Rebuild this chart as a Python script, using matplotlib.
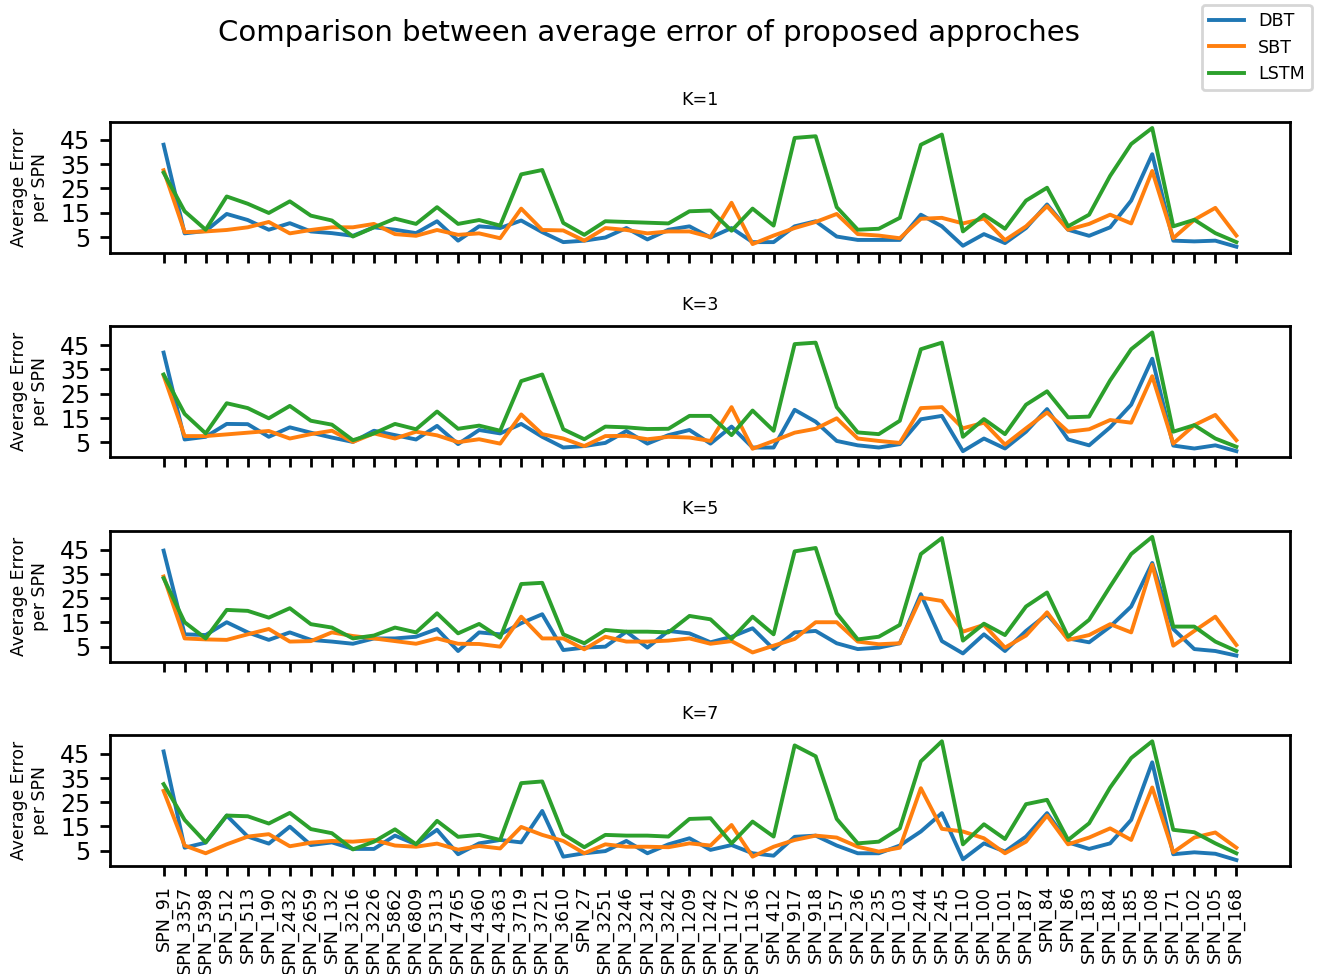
import numpy as np
import matplotlib
matplotlib.use('Agg')
from matplotlib import pyplot as plt

#%% DATA

spn_labels = ['SPN_91', 'SPN_3357', 'SPN_5398', 'SPN_512', 'SPN_513', 'SPN_190',
              'SPN_2432', 'SPN_2659', 'SPN_132', 'SPN_3216', 'SPN_3226', 'SPN_5862',
              'SPN_6809', 'SPN_5313', 'SPN_4765', 'SPN_4360', 'SPN_4363', 'SPN_3719',
              'SPN_3721', 'SPN_3610', 'SPN_27', 'SPN_3251', 'SPN_3246', 'SPN_3241',
              'SPN_3242', 'SPN_1209', 'SPN_1242', 'SPN_1172', 'SPN_1136', 'SPN_412',
              'SPN_917', 'SPN_918', 'SPN_157', 'SPN_236', 'SPN_235', 'SPN_103',
              'SPN_244', 'SPN_245', 'SPN_110', 'SPN_100', 'SPN_101', 'SPN_187',
              'SPN_84', 'SPN_86', 'SPN_183', 'SPN_184', 'SPN_185', 'SPN_108',
              'SPN_171', 'SPN_102', 'SPN_105', 'SPN_168']

k_values = [1, 3, 5, 7]

# K=1
dbt_k1 = [43.0, 6.5, 7.5, 14.5, 12.0, 8.0, 10.7, 7.3, 6.6, 5.5, 9.0, 8.0, 6.6,
          11.5, 3.5, 9.4, 8.7, 11.8, 7.0, 2.9, 3.5, 4.8, 8.7, 4.0, 8.0, 9.4,
          4.8, 8.7, 2.9, 2.9, 9.4, 11.5, 5.2, 3.8, 3.8, 3.8, 14.2, 9.4, 1.4,
          6.2, 2.5, 8.7, 18.4, 8.0, 5.5, 9.0, 20.0, 39.1, 3.5, 3.2, 3.5, 1.0]
sbt_k1 = [32.5, 7.0, 7.3, 7.9, 9.0, 11.2, 6.5, 7.9, 9.0, 9.0, 10.4, 6.2, 5.5,
          7.9, 5.9, 6.5, 4.5, 16.7, 7.9, 7.7, 3.5, 8.7, 7.9, 6.5, 7.3, 7.3,
          5.0, 19.1, 2.1, 5.6, 8.7, 11.2, 14.5, 6.2, 5.6, 4.5, 12.5, 12.9, 10.6,
          12.6, 3.7, 9.4, 17.7, 8.0, 10.4, 14.2, 10.6, 32.2, 4.5, 12.1, 17.0, 5.6]
lstm_k1 = [31.5, 15.6, 8.0, 21.7, 18.7, 14.9, 19.7, 13.8, 11.8, 5.2, 9.0, 12.6, 10.4,
           17.3, 10.4, 12.0, 9.7, 30.8, 32.6, 10.8, 5.9, 11.5, 11.2, 10.9, 10.6, 15.6,
           15.9, 7.6, 16.7, 9.7, 45.8, 46.5, 17.3, 8.0, 8.4, 12.9, 43.0, 47.2, 7.3,
           14.2, 8.4, 20.0, 25.3, 9.4, 14.2, 30.2, 43.3, 49.9, 9.4, 12.1, 6.6, 2.9]

# K=3
dbt_k3 = [41.9, 6.2, 7.3, 12.6, 12.5, 7.3, 11.2, 9.0, 7.0, 5.2, 9.8, 8.0, 6.2,
          11.8, 4.3, 10.1, 8.7, 12.6, 7.3, 2.9, 3.5, 4.8, 9.7, 4.5, 8.0, 10.1,
          4.5, 11.5, 2.9, 2.9, 18.4, 13.5, 5.6, 3.8, 2.9, 4.3, 14.5, 15.9, 1.4,
          6.6, 2.5, 9.4, 18.7, 6.2, 3.8, 11.2, 20.5, 39.4, 3.7, 2.5, 3.8, 1.4]
sbt_k3 = [32.5, 7.6, 7.6, 8.3, 9.0, 9.7, 6.6, 8.4, 9.8, 5.2, 8.7, 6.6, 9.4,
          7.9, 5.1, 6.3, 4.5, 16.5, 8.4, 6.6, 3.5, 7.6, 7.7, 6.3, 7.3, 7.0,
          5.6, 19.5, 2.4, 5.6, 9.0, 10.6, 14.9, 6.6, 5.6, 4.8, 19.1, 19.5, 10.8,
          13.1, 4.1, 10.8, 17.3, 9.4, 10.4, 14.2, 13.1, 32.2, 4.5, 12.1, 16.3, 5.9]
lstm_k3 = [32.9, 16.7, 8.7, 21.1, 19.1, 14.9, 20.0, 13.9, 12.3, 5.9, 8.7, 12.6, 10.4,
           17.7, 10.6, 11.9, 9.8, 30.2, 32.9, 10.4, 6.3, 11.5, 11.2, 10.5, 10.6, 15.9,
           15.9, 8.0, 18.1, 9.8, 45.4, 46.0, 19.5, 9.1, 8.4, 13.9, 43.3, 46.0, 7.3,
           14.6, 8.4, 20.5, 26.0, 15.3, 15.6, 30.5, 43.3, 50.2, 9.4, 12.1, 6.6, 3.2]

# K=5
dbt_k5 = [44.7, 10.1, 9.8, 15.1, 10.9, 7.8, 10.9, 7.8, 7.1, 6.2, 8.4, 8.4, 9.1,
          12.3, 3.2, 10.9, 10.1, 14.7, 18.4, 3.6, 4.6, 5.0, 11.2, 4.6, 11.5, 10.5,
          6.8, 9.1, 12.6, 4.0, 10.9, 11.5, 6.4, 4.0, 4.6, 6.4, 26.7, 7.3, 2.2,
          10.1, 3.2, 11.5, 18.4, 8.4, 6.8, 13.3, 21.6, 39.6, 12.3, 4.0, 3.2, 1.3]
sbt_k5 = [34.0, 8.4, 8.0, 7.8, 10.1, 12.3, 7.1, 7.3, 10.9, 9.4, 8.4, 7.3, 6.2,
          8.4, 6.2, 6.1, 5.0, 17.4, 8.4, 8.4, 3.9, 9.1, 7.1, 7.1, 7.5, 8.4,
          6.2, 7.3, 2.6, 5.4, 8.2, 15.1, 15.1, 7.1, 6.0, 6.4, 25.3, 23.9, 11.2,
          14.0, 4.6, 9.6, 19.2, 7.8, 9.8, 14.3, 10.9, 38.9, 5.4, 11.5, 17.4, 5.7]
lstm_k5 = [33.3, 15.1, 8.4, 20.2, 19.8, 17.0, 20.9, 14.3, 12.9, 8.4, 9.6, 12.9, 10.9,
           18.8, 10.5, 14.4, 8.7, 30.9, 31.4, 10.1, 6.4, 11.9, 11.2, 11.2, 10.9, 17.7,
           16.3, 8.2, 17.4, 10.1, 44.4, 45.8, 18.8, 8.0, 9.1, 14.0, 43.3, 49.9, 7.5,
           14.5, 9.8, 21.6, 27.4, 9.1, 16.1, 29.9, 43.3, 50.4, 13.3, 13.3, 7.1, 3.2]

# K=7
dbt_k7 = [46.0, 6.2, 8.3, 19.5, 10.8, 7.9, 14.9, 7.3, 8.4, 5.7, 5.7, 11.2, 7.6,
          13.6, 3.5, 8.0, 9.4, 8.4, 21.4, 2.5, 3.9, 4.8, 9.0, 3.9, 7.6, 10.1,
          5.3, 7.3, 3.9, 2.9, 10.7, 11.2, 7.1, 3.9, 3.9, 7.1, 12.9, 20.5, 1.4,
          8.0, 4.6, 10.8, 20.5, 8.4, 5.7, 8.0, 17.7, 41.5, 3.5, 4.3, 3.7, 1.1]
sbt_k7 = [29.7, 7.1, 3.9, 7.6, 10.8, 11.8, 6.8, 8.3, 9.0, 8.7, 9.4, 7.1, 6.6,
          7.9, 5.4, 6.9, 5.9, 14.8, 11.5, 9.0, 3.9, 7.6, 6.6, 6.6, 6.4, 8.0,
          7.1, 15.6, 2.5, 6.6, 9.4, 11.2, 10.4, 6.6, 4.6, 6.2, 30.8, 14.0, 12.9,
          10.1, 3.9, 8.7, 19.5, 7.6, 10.4, 14.2, 9.4, 31.1, 4.3, 10.4, 12.5, 6.2]
lstm_k7 = [32.5, 17.7, 8.4, 19.5, 19.2, 16.2, 20.6, 13.9, 12.2, 5.5, 8.7, 13.8, 7.6,
           17.3, 10.7, 11.5, 9.4, 32.9, 33.6, 11.8, 6.4, 11.5, 11.2, 11.2, 10.8, 18.1,
           18.4, 8.0, 17.0, 10.8, 48.5, 44.0, 18.1, 8.0, 8.7, 14.2, 41.9, 50.2, 7.6,
           15.9, 9.8, 24.2, 26.0, 9.4, 16.3, 31.1, 43.3, 50.2, 13.6, 12.6, 8.0, 3.9]

dbt = [dbt_k1, dbt_k3, dbt_k5, dbt_k7]
sbt = [sbt_k1, sbt_k3, sbt_k5, sbt_k7]
lstm = [lstm_k1, lstm_k3, lstm_k5, lstm_k7]

#%% PLOT

plt.rcParams['axes.linewidth'] = 1.0
plt.rcParams['xtick.major.width'] = 1.0
plt.rcParams['ytick.major.width'] = 1.0

fig, axes = plt.subplots(4, 1, sharex=True, figsize=(6.585, 4.87), dpi=200)
fig.subplots_adjust(left=0.0835, right=0.9795, top=0.8747, bottom=0.1109,
                    hspace=0.565)

for ax, k, d, s, l in zip(axes, k_values, dbt, sbt, lstm):
    ax.plot(spn_labels, d, color='tab:blue', lw=1.4, label='DBT')
    ax.plot(spn_labels, s, color='tab:orange', lw=1.4, label='SBT')
    ax.plot(spn_labels, l, color='tab:green', lw=1.4, label='LSTM')
    ax.set_title('K=%d' % k, fontsize=6.3)
    ax.set_yticks([5, 15, 25, 35, 45])
    ax.tick_params(axis='y', labelsize=8.5)
    ax.set_ylabel('Average Error\nper SPN', fontsize=6.2)

axes[-1].tick_params(axis='x', labelrotation=90, labelsize=6.3)

handles, labels = axes[0].get_legend_handles_labels()
fig.legend(handles, labels, loc='upper right', fontsize=6.3,
           bbox_to_anchor=(1.0025, 1.004))
fig.suptitle('Comparison between average error of proposed approches',
             fontsize=10.5, x=0.493)

plt.savefig('out.png', dpi=200)
